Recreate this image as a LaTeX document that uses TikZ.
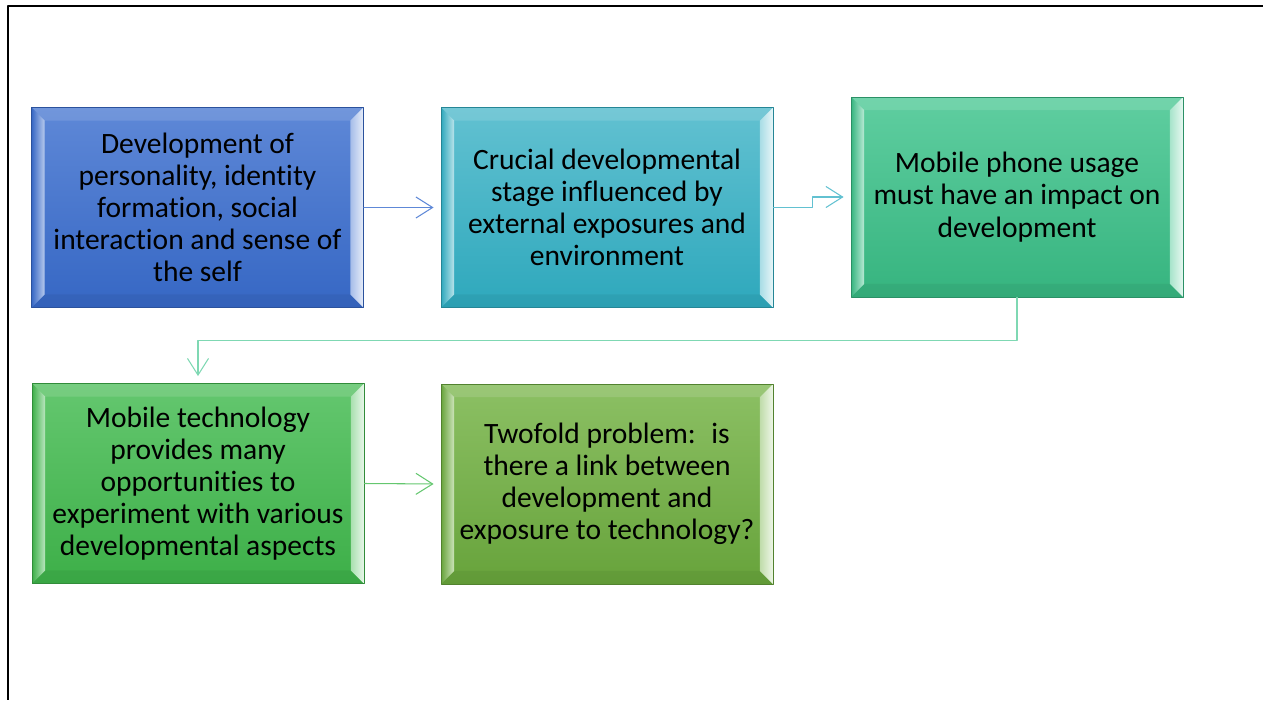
\documentclass[tikz,border=0pt]{standalone}
\usepackage{fontspec}
\setmainfont{Carlito}[RawFeature={-liga;-clig;-calt;-dlig}]
\usetikzlibrary{arrows.meta,calc}

\definecolor{blueT}{HTML}{5E88D7}
\definecolor{blueB}{HTML}{3667C4}
\definecolor{tealT}{HTML}{62C1D1}
\definecolor{tealB}{HTML}{2EA8BC}
\definecolor{mintT}{HTML}{5FCEA0}
\definecolor{mintB}{HTML}{36B47F}
\definecolor{greenT}{HTML}{64C76F}
\definecolor{greenB}{HTML}{3DAF48}
\definecolor{oliveT}{HTML}{8CC064}
\definecolor{oliveB}{HTML}{67A33B}

\begin{document}
\begin{tikzpicture}[line cap=round,line join=round,>={Straight Barb[length=9.5pt,width=12pt]},x=0.02cm,y=-0.02cm,
	stagebox/.style 2 args={minimum width=6.64cm,minimum height=4cm,inner sep=0pt,align=center,
		font=\fontsize{16.8}{18.3}\selectfont,top color=#1,bottom color=#2,draw=#2!80!black,line width=0.5pt,
		path picture={
			\path (path picture bounding box.north west) coordinate (pnw)
				(path picture bounding box.south east) coordinate (pse);
			\fill[white,opacity=.12] (pnw) -- (pse|-pnw) -- ($(pse|-pnw)+(-0.26cm,-0.26cm)$) -- ($(pnw)+(0.26cm,-0.26cm)$) -- cycle;
			\fill[black,opacity=.05] (pnw|-pse) -- (pse) -- ($(pse)+(-0.26cm,0.26cm)$) -- ($(pnw|-pse)+(0.26cm,0.26cm)$) -- cycle;
			\shade[left color=#2, right color=white!55!#1] (pnw) -- ($(pnw)+(0.26cm,-0.26cm)$) -- ($(pnw|-pse)+(0.26cm,0.26cm)$) -- (pnw|-pse) -- cycle;
			\shade[left color=white!45!#1, right color=white!85!#1] (pse|-pnw) -- (pse) -- ($(pse)+(-0.26cm,0.26cm)$) -- ($(pse|-pnw)+(-0.26cm,-0.26cm)$) -- cycle;
		}},
	link/.style={->,line width=0.6pt,shorten >=4pt,draw=#1}]
	\useasboundingbox (0,0) rectangle (1263,700);
	% frame
	\draw[line width=1.1pt,line cap=butt] (1263,6) -- (8,6) -- (8,700);
	% stages
	\node[stagebox={blueT}{blueB}] (dev) at (197.5,207.5) {Development of\\personality, identity\\formation, social\\interaction and sense of\\the self};
	\node[stagebox={tealT}{tealB}] (stage) at (607,207.5) {Crucial developmental\\stage influenced by\\external exposures and\\environment};
	\node[stagebox={mintT}{mintB}] (impact) at (1017,197) {Mobile phone usage\\must have an impact on\\development};
	\node[stagebox={greenT}{greenB}] (tech) at (198,483.5) {Mobile technology\\provides many\\opportunities to\\experiment with various\\developmental aspects};
	\node[stagebox={oliveT}{oliveB}] (problem) at (607,484) {Twofold problem:~ is\\there a link between\\development and\\exposure to technology?};
	% links
	\draw[link=blueT] (dev.east) -- (stage.west);
	\draw[link=tealT] (stage.east) -- ++(39,0) |- (impact.west);
	\draw[link=mintT!80!white] (impact.south) -- ++(0,43) -| (tech.north);
	\draw[link=greenT] (tech.east) -- (problem.west);
\end{tikzpicture}
\end{document}
